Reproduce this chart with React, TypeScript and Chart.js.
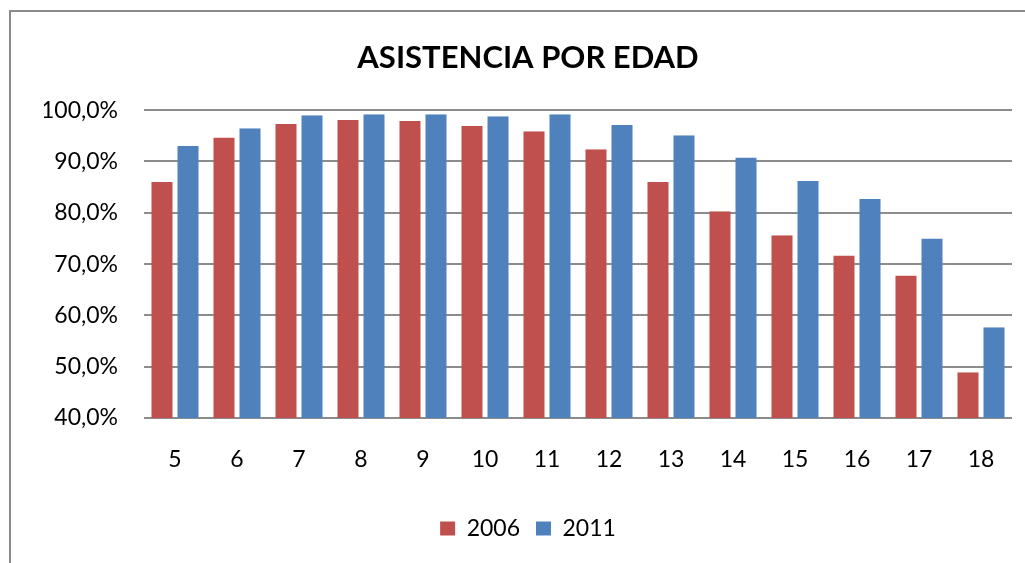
import React, { useEffect, useRef } from "react";
import { Chart, registerables } from "chart.js";

Chart.register(...registerables);

const categories = ["5", "6", "7", "8", "9", "10", "11", "12", "13", "14", "15", "16", "17", "18"];
const values2006 = [86.0, 94.7, 97.3, 98.1, 97.9, 96.9, 95.9, 92.4, 86.0, 80.3, 75.6, 71.7, 67.8, 48.9];
const values2011 = [93.0, 96.5, 99.0, 99.2, 99.2, 98.8, 99.2, 97.1, 95.1, 90.8, 86.2, 82.7, 75.0, 57.7];
const seriesLabels = ["2006", "2011"];
const seriesColors = ["#C0504D", "#4F81BD"];
const titleText = "ASISTENCIA POR EDAD";
const yMin = 40;
const yMax = 100;
const yStep = 10;

const framePlugin = {
  id: "frame",
  beforeDraw(chart: any) {
    const ctx = chart.ctx;
    ctx.save();
    ctx.strokeStyle = "#8a8a8a";
    ctx.lineWidth = 2;
    ctx.beginPath();
    ctx.moveTo(10, chart.height);
    ctx.lineTo(10, 11);
    ctx.lineTo(chart.width, 11);
    ctx.stroke();
    ctx.restore();
  },
};

export default function App() {
  const ref = useRef<HTMLCanvasElement | null>(null);

  useEffect(() => {
    if (!ref.current) return;
    const font = "Lato";
    const chart = new Chart(ref.current, {
      type: "bar",
      data: {
        labels: categories,
        datasets: [values2006, values2011].map((vals, i) => ({
          label: seriesLabels[i],
          data: vals,
          backgroundColor: seriesColors[i],
          borderColor: "rgba(0,0,0,0)",
          borderWidth: { left: 2.5, right: 2.5, top: 0, bottom: 0 },
          borderSkipped: false,
          categoryPercentage: 0.839,
          barPercentage: 1,
        })),
      },
      options: {
        responsive: false,
        animation: false,
        layout: { padding: { left: 44, right: 13, top: 20, bottom: 13 } },
        plugins: {
          title: {
            display: true,
            text: titleText,
            color: "#000",
            font: { family: font, size: 31, weight: "bold", lineHeight: 1.2 },
            padding: { top: 19, bottom: 34 },
          },
          legend: {
            display: true,
            position: "bottom",
            labels: {
              color: "#000",
              font: { family: font, size: 23 },
              boxWidth: 15,
              boxHeight: 14,
              padding: 16,
            },
          },
          tooltip: { enabled: false },
        },
        scales: {
          x: {
            grid: { display: false, drawTicks: false },
            border: { display: false },
            ticks: {
              color: "#000",
              font: { family: font, size: 23 },
              padding: 28,
            },
            afterFit(scale: any) {
              scale.height = 83;
            },
          },
          y: {
            min: yMin,
            max: yMax,
            ticks: {
              stepSize: yStep,
              color: "#000",
              font: { family: font, size: 23 },
              padding: 26,
              callback: (v: any) => Number(v).toFixed(1).replace(".", ",") + "%",
            },
            grid: { color: "#8c8c8c", lineWidth: 2, drawTicks: false },
            border: { display: false },
            afterFit(scale: any) {
              scale.width = 100;
            },
          },
        },
      },
      plugins: [framePlugin],
    });
    return () => chart.destroy();
  }, []);

  return (
    <div style={{ position: "fixed", left: 0, top: 0, width: 1025, height: 563, background: "#fff" }}>
      <canvas ref={ref} width={1025} height={563} style={{ display: "block" }} />
    </div>
  );
}
